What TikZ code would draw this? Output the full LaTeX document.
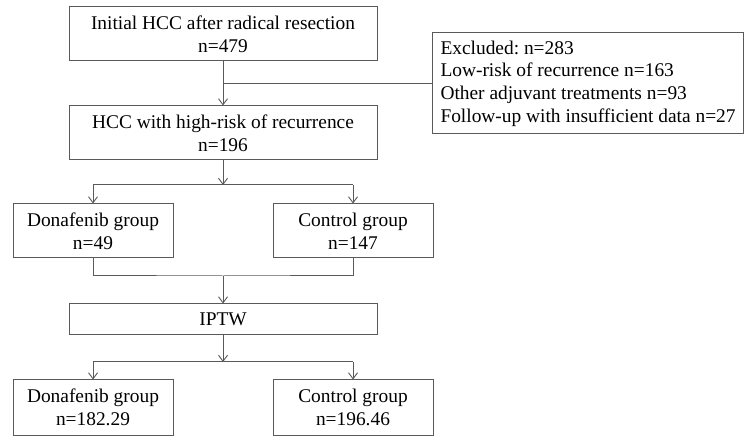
\documentclass[tikz,border=0pt]{standalone}
\usepackage{fontspec}
\setmainfont{Liberation Serif}
\usetikzlibrary{arrows.meta}
\definecolor{linegray}{HTML}{5A5A5A}
\frenchspacing
\tikzset{
  box/.style={draw=linegray, line width=1pt, align=center, inner sep=0pt,
    font=\fontsize{19.4}{22.7}\selectfont\frenchspacing, text=black},
  wide/.style={box, minimum width=308pt, minimum height=54pt},
  small/.style={box, minimum width=160pt, minimum height=54pt},
  conn/.style={draw=linegray, line width=1pt},
  arr/.style={conn, -{Straight Barb[length=6pt,width=9pt,line width=0.9pt]}}
}
\begin{document}
\begin{tikzpicture}[x=1pt,y=-1pt]
\fill[white] (0,0) rectangle (755,443);
\useasboundingbox (0,0) rectangle (755,443);

\node[wide] (n1) at (223,34) {Initial HCC after radical resection\\n=479};
\node[box, anchor=west, align=left, inner xsep=8pt, minimum height=101pt] (ex) at (432,83.5)
  {Excluded: n=283\\Low-risk of recurrence n=163\\Other adjuvant treatments n=93\\Follow-up with insufficient data n=27};
\node[wide] (n2) at (223,133) {HCC with high-risk of recurrence\\n=196};
\node[small] (d1) at (93,231) {Donafenib group\\n=49};
\node[small] (c1) at (353,231) {Control group\\n=147};
\node[wide, minimum height=31pt] (ip) at (223,319.5) {IPTW};
\node[small, minimum height=55pt] (d2) at (93,407.5) {Donafenib group\\n=182.29};
\node[small, minimum height=55pt] (c2) at (353,407.5) {Control group\\n=196.46};

\coordinate (b1) at (223,83.5);
\coordinate (s1) at (223,185);
\coordinate (s1l) at (93,185);
\coordinate (s1r) at (353,185);
\coordinate (m1) at (223,276);
\coordinate (s2) at (223,362);
\coordinate (s2l) at (93,362);
\coordinate (s2r) at (353,362);

\draw[arr] (n1.south) -- (n2.north);
\draw[conn] (b1) -- (ex.west);
\draw[arr] (n2.south) -- (s1);
\draw[conn] (s1l) -- (s1r);
\draw[arr] (s1l) -- (d1.north);
\draw[arr] (s1r) -- (c1.north);
\draw[conn] (d1.south) |- (m1) -| (c1.south);
\draw[arr] (m1) -- (ip.north);
\draw[arr] (ip.south) -- (s2);
\draw[conn] (s2l) -- (s2r);
\draw[arr] (s2l) -- (d2.north);
\draw[arr] (s2r) -- (c2.north);
\end{tikzpicture}
\end{document}
